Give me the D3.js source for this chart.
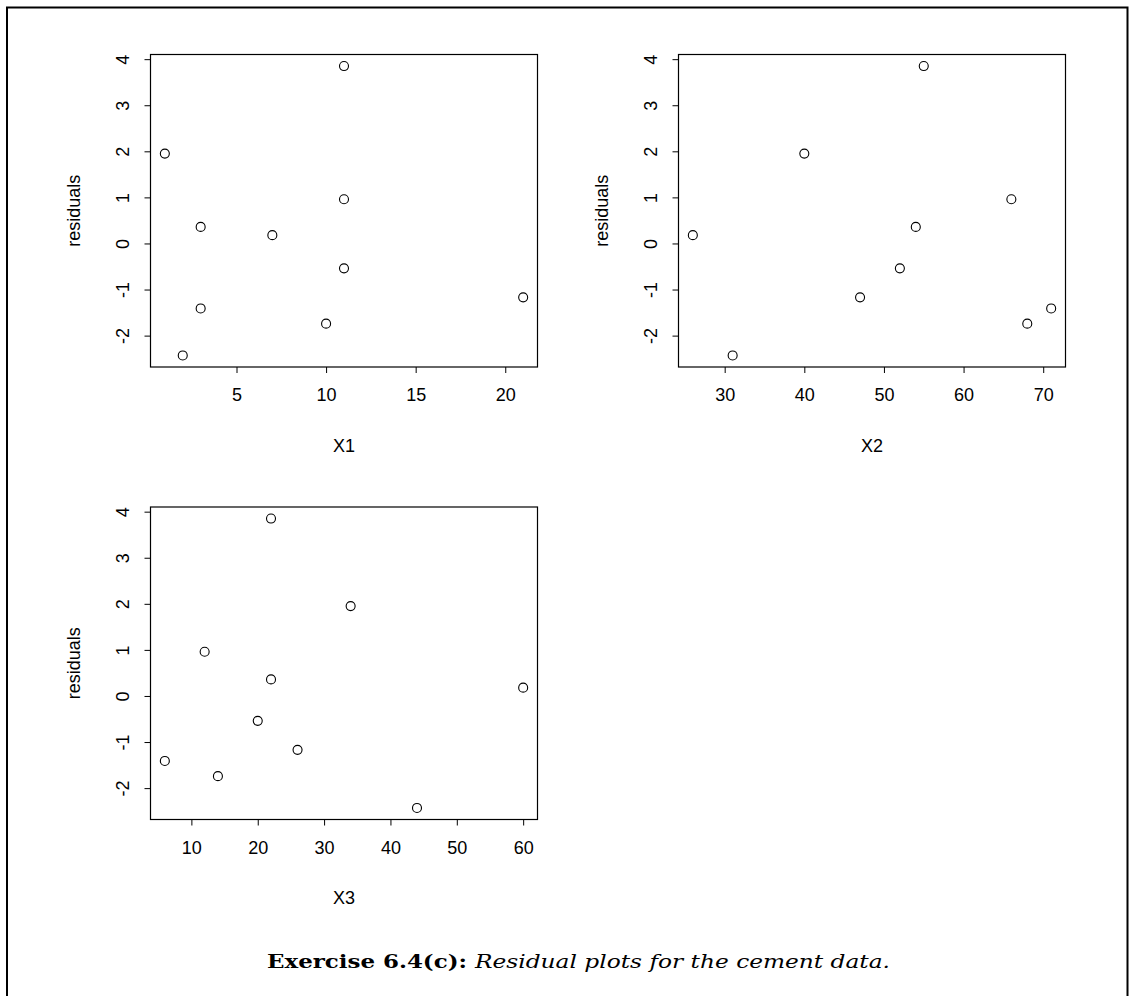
<!DOCTYPE html>
<html>
<head>
<meta charset="utf-8">
<script src="https://cdn.jsdelivr.net/npm/d3@7"></script>
<style>
  html, body { margin: 0; padding: 0; background: #fff; }
  svg { display: block; }
  .tick text, .lab { font-family: "Liberation Sans", Arial, sans-serif; font-size: 18px; fill: #000; }
</style>
</head>
<body>
<svg id="fig" width="1130" height="996"></svg>
<script>
// Cement data: residuals against each regressor (one entry per observation)
const residuals = [0.18, 1.95, 3.85, 0.96, -2.43, -1.41, -1.74, -1.17, -0.54, 0.36];
const x1 = [7, 1, 11, 11, 2, 3, 10, 21, 11, 3];
const x2 = [26, 40, 55, 66, 31, 71, 68, 47, 52, 54];
const x3 = [60, 34, 22, 12, 44, 6, 14, 26, 20, 22];

const x1Ticks = [5, 10, 15, 20];
const x2Ticks = [30, 40, 50, 60, 70];
const x3Ticks = [10, 20, 30, 40, 50, 60];
const yTicks = [-2, -1, 0, 1, 2, 3, 4];

const panels = [
  { name: "X1", values: x1, ticks: x1Ticks, col: 0, row: 0 },
  { name: "X2", values: x2, ticks: x2Ticks, col: 1, row: 0 },
  { name: "X3", values: x3, ticks: x3Ticks, col: 0, row: 1 }
];

const svg = d3.select("#fig");

// page frame (left, top, right rules)
svg.append("path")
  .attr("d", "M7,996V7.5H1127.5V996")
  .attr("fill", "none").attr("stroke", "#000").attr("stroke-width", 2);

// plot box geometry
const boxW = 387, boxH = 312.5;
const colLeft = [150.5, 678.5];
const rowTop = [54.5, 507];

// R-style 4% range extension
function padded(vals) {
  const [lo, hi] = d3.extent(vals);
  const e = (hi - lo) * 0.04;
  return [lo - e, hi + e];
}

const yDom = padded(residuals);

panels.forEach(p => {
  const left = colLeft[p.col], top = rowTop[p.row];
  const g = svg.append("g").attr("transform", `translate(${left},${top})`);

  const x = d3.scaleLinear().domain(padded(p.values)).range([0, boxW]);
  const y = d3.scaleLinear().domain(yDom).range([boxH, 0]);

  // bottom axis
  const ax = g.append("g").attr("transform", `translate(0,${boxH})`)
    .call(d3.axisBottom(x).tickValues(p.ticks).tickSize(6).tickPadding(15.7)
      .tickFormat(d => String(d)));
  ax.select(".domain").remove();
  ax.selectAll(".tick line").attr("stroke", "#000").attr("stroke-width", 1);

  // left axis, labels parallel to the axis
  const ay = g.append("g")
    .call(d3.axisLeft(y).tickValues(yTicks).tickSize(6).tickFormat(d => String(d)));
  ay.select(".domain").remove();
  ay.selectAll(".tick line").attr("stroke", "#000").attr("stroke-width", 1);
  ay.selectAll(".tick text")
    .attr("x", null).attr("dy", "0.36em")
    .attr("text-anchor", "middle")
    .attr("transform", "translate(-28,0) rotate(-90)");

  // box
  g.append("rect").attr("x", 0).attr("y", 0).attr("width", boxW).attr("height", boxH)
    .attr("fill", "none").attr("stroke", "#000").attr("stroke-width", 1.2);

  // points
  g.selectAll("circle.pt").data(p.values.map((v, i) => [v, residuals[i]]))
    .join("circle").attr("class", "pt")
    .attr("cx", d => x(d[0])).attr("cy", d => y(d[1])).attr("r", 4.5)
    .attr("fill", "none").attr("stroke", "#000").attr("stroke-width", 1.1);

  // axis titles
  g.append("text").attr("class", "lab")
    .attr("x", boxW / 2).attr("y", boxH + 84.5).attr("text-anchor", "middle")
    .text(p.name);
  g.append("text").attr("class", "lab")
    .attr("transform", `translate(-77,${boxH / 2}) rotate(-90)`)
    .attr("dy", "0.36em").attr("text-anchor", "middle")
    .text("residuals");
});

// caption
const cap = svg.append("g")
  .style("font-family", '"DejaVu Serif", "Liberation Serif", serif')
  .style("font-size", "18.5px");
cap.append("text").attr("x", 267).attr("y", 968)
  .attr("font-weight", "bold")
  .attr("textLength", 200).attr("lengthAdjust", "spacingAndGlyphs")
  .text("Exercise 6.4(c):");
cap.append("text").attr("x", 475).attr("y", 968)
  .attr("font-style", "italic")
  .attr("textLength", 415).attr("lengthAdjust", "spacingAndGlyphs")
  .text("Residual plots for the cement data.");
</script>
</body>
</html>
